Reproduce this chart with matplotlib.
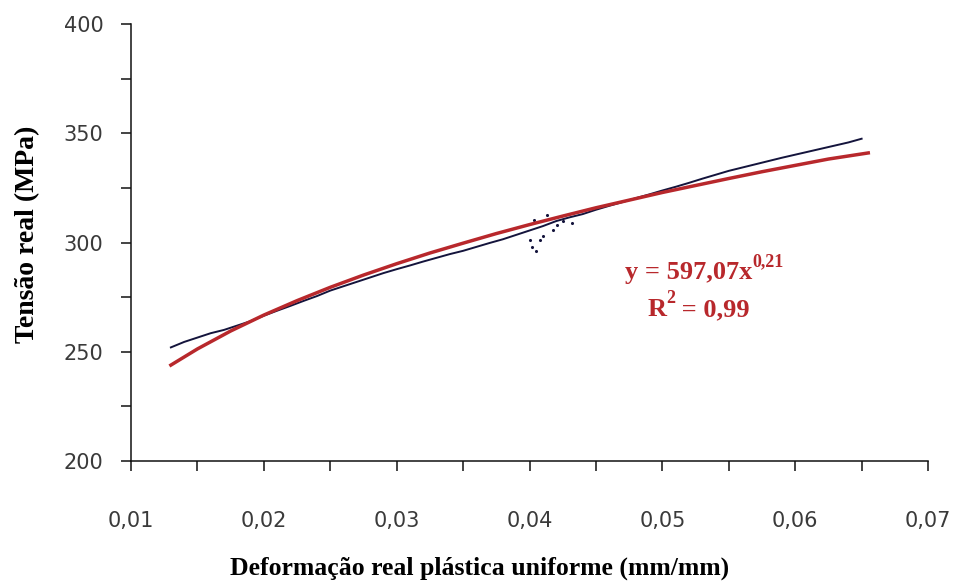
import matplotlib
matplotlib.use("Agg")
import matplotlib.pyplot as plt
from matplotlib.ticker import MultipleLocator, FuncFormatter

# dados
deformacao = [0.013, 0.014, 0.015, 0.016, 0.017, 0.018, 0.019, 0.020, 0.021, 0.022,
              0.023, 0.024, 0.025, 0.026, 0.027, 0.028, 0.029, 0.030, 0.031, 0.032,
              0.033, 0.034, 0.035, 0.036, 0.037, 0.038, 0.039, 0.040, 0.041, 0.042,
              0.043, 0.044, 0.045, 0.046, 0.047, 0.048, 0.049, 0.050, 0.051, 0.052,
              0.053, 0.054, 0.055, 0.056, 0.057, 0.058, 0.059, 0.060, 0.061, 0.062,
              0.063, 0.064, 0.065]
tensao = [252.0, 254.5, 256.5, 258.5, 260.0, 262.0, 264.0, 266.5, 268.8, 271.0,
          273.3, 275.5, 278.0, 280.0, 282.0, 284.0, 286.0, 287.8, 289.5, 291.3,
          293.0, 294.7, 296.2, 298.0, 299.8, 301.5, 303.5, 305.5, 307.5, 309.8,
          311.5, 313.0, 315.0, 316.8, 318.5, 320.3, 322.0, 323.8, 325.5, 327.3,
          329.2, 331.0, 332.8, 334.3, 335.8, 337.3, 338.8, 340.2, 341.6, 343.0,
          344.4, 345.8, 347.5]

# pontos dispersos perto de 0,04
disp_x = [0.0400, 0.0402, 0.0403, 0.0405, 0.0408, 0.0410, 0.0413, 0.0418, 0.0421, 0.0425, 0.0432]
disp_y = [301.0, 298.0, 310.3, 296.0, 301.0, 303.0, 312.6, 305.7, 308.0, 310.0, 309.0]

# linha de tendência (potência)
tend_x = [0.013, 0.015, 0.0175, 0.020, 0.0225, 0.025, 0.0275, 0.030, 0.0325, 0.035, 0.0375,
          0.040, 0.0425, 0.045, 0.0475, 0.050, 0.0525, 0.055, 0.0575, 0.060, 0.0625, 0.0655]
tend_y = [243.9, 251.3, 259.5, 266.8, 273.4, 279.5, 285.1, 290.3, 295.2, 299.7, 304.1,
          308.2, 312.1, 315.9, 319.4, 322.9, 326.1, 329.3, 332.4, 335.3, 338.2, 341.0]

vermelho = '#b8282c'
serif = 'Liberation Serif'

fig = plt.figure(figsize=(9.6, 5.86), dpi=100)
ax = fig.add_axes([0.1365, 0.2133, 0.8302, 0.7457])

ax.plot(deformacao, tensao, color='#14143c', lw=1.4, zorder=2)
ax.scatter(disp_x, disp_y, s=1.5, color='#14143c', zorder=2)
ax.plot(tend_x, tend_y, color=vermelho, lw=2.5, zorder=3)

ax.set_xlim(0.01, 0.07)
ax.set_ylim(200, 400)
ax.spines['top'].set_visible(False)
ax.spines['right'].set_visible(False)
for s in ['left', 'bottom']:
    ax.spines[s].set_linewidth(1.1)
    ax.spines[s].set_color('#111111')

ax.xaxis.set_major_locator(MultipleLocator(0.01))
ax.xaxis.set_minor_locator(MultipleLocator(0.005))
ax.yaxis.set_major_locator(MultipleLocator(50))
ax.yaxis.set_minor_locator(MultipleLocator(25))
ax.xaxis.set_major_formatter(FuncFormatter(lambda v, p: ('%.2f' % v).replace('.', ',')))
ax.tick_params(which='both', direction='out', length=7, width=1.1, color='#111111')
ax.tick_params(axis='x', which='major', pad=29, labelsize=15, labelcolor='#3a3a3a')
ax.tick_params(axis='y', which='major', pad=13, labelsize=15, labelcolor='#3a3a3a')

# títulos dos eixos (centrados na figura como no original)
fig.text(0.5, 0.031, 'Deformação real plástica uniforme (mm/mm)', family=serif,
         fontweight='bold', fontsize=18.5, ha='center', va='center')
fig.text(0.029, 0.60, 'Tensão real (MPa)', family=serif, fontweight='bold',
         fontsize=20, rotation=90, ha='center', va='center')

# equação da linha de tendência
eq = ax.text(0.05676, 283.3, 'y = 597,07x', family=serif, fontweight='bold',
             fontsize=19, color=vermelho, ha='right', va='baseline')
ax.annotate('0,21', xy=(1, 0.62), xycoords=eq, family=serif, fontweight='bold',
            fontsize=13, color=vermelho, ha='left', va='bottom')
r = ax.text(0.04886, 266.4, 'R', family=serif, fontweight='bold',
            fontsize=19, color=vermelho, ha='left', va='baseline')
sup = ax.annotate('2', xy=(1, 0.6), xycoords=r, family=serif, fontweight='bold',
                  fontsize=13, color=vermelho, ha='left', va='bottom')
ax.annotate(' = 0,99', xy=(1, 0), xycoords=(sup, r), family=serif, fontweight='bold',
            fontsize=19, color=vermelho, ha='left', va='bottom')

fig.savefig('out.png', dpi=100, facecolor='white')
